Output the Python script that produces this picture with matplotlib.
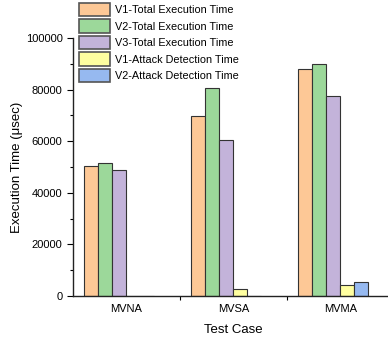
import numpy as np
import matplotlib
matplotlib.use("Agg")
import matplotlib.pyplot as plt
from matplotlib.ticker import MultipleLocator, FixedLocator

plt.rcParams['font.family'] = ['Liberation Sans', 'DejaVu Sans']

cases = ["MVNA", "MVSA", "MVMA"]
series = ["V1-Total Execution Time", "V2-Total Execution Time", "V3-Total Execution Time",
          "V1-Attack Detection Time", "V2-Attack Detection Time"]
v1_total = [50300, 69800, 87900]
v2_total = [51500, 80600, 89800]
v3_total = [48700, 60500, 77400]
v1_attack = [0, 2600, 4100]
v2_attack = [0, 0, 5200]
colors = ["#fdc896", "#9cd89a", "#c3b3da", "#ffffa0", "#96b9f0"]

values = [v1_total, v2_total, v3_total, v1_attack, v2_attack]

fig = plt.figure(figsize=(3.88, 3.37), dpi=100)
ax = fig.add_axes([0.188, 0.122, 0.827, 0.765])

x = np.arange(1, len(cases) + 1)
w = 0.131
for i, (name, vals) in enumerate(zip(series, values)):
    ax.bar(x + (i - 3) * w, vals, width=w, align='edge', color=colors[i],
           edgecolor="#333333", linewidth=0.8, label=name)

ax.set_xlim(0.5, 3.5)
ax.set_ylim(0, 100000)
ax.set_xticks(x)
ax.set_xticklabels(cases, fontsize=8)
ax.xaxis.set_minor_locator(FixedLocator([1.5, 2.5]))
ax.tick_params(axis='x', which='major', length=0, pad=6)
ax.tick_params(axis='x', which='minor', length=3, width=0.8, direction='out')
ax.yaxis.set_major_locator(MultipleLocator(20000))
ax.yaxis.set_minor_locator(MultipleLocator(10000))
ax.tick_params(axis='y', which='major', length=4, width=0.8, labelsize=8)
ax.tick_params(axis='y', which='minor', length=2.5, width=0.8)

for s in ["top", "right"]:
    ax.spines[s].set_visible(False)
for s in ["left", "bottom"]:
    ax.spines[s].set_linewidth(1.0)
    ax.spines[s].set_color("#222222")

ax.set_xlabel("Test Case", fontsize=9.5, labelpad=7)
ax.set_ylabel("Execution Time (μsec)", fontsize=9.5, labelpad=2)

leg = ax.legend(loc='upper left', bbox_to_anchor=(0.005, 1.153), frameon=False,
                fontsize=7.8, handlelength=2.9, handleheight=1.5,
                labelspacing=0.3, handletextpad=0.4, borderaxespad=0)
for h in leg.legend_handles:
    h.set_edgecolor("#555555")
    h.set_linewidth(1.2)

fig.savefig("out.png", dpi=100)
